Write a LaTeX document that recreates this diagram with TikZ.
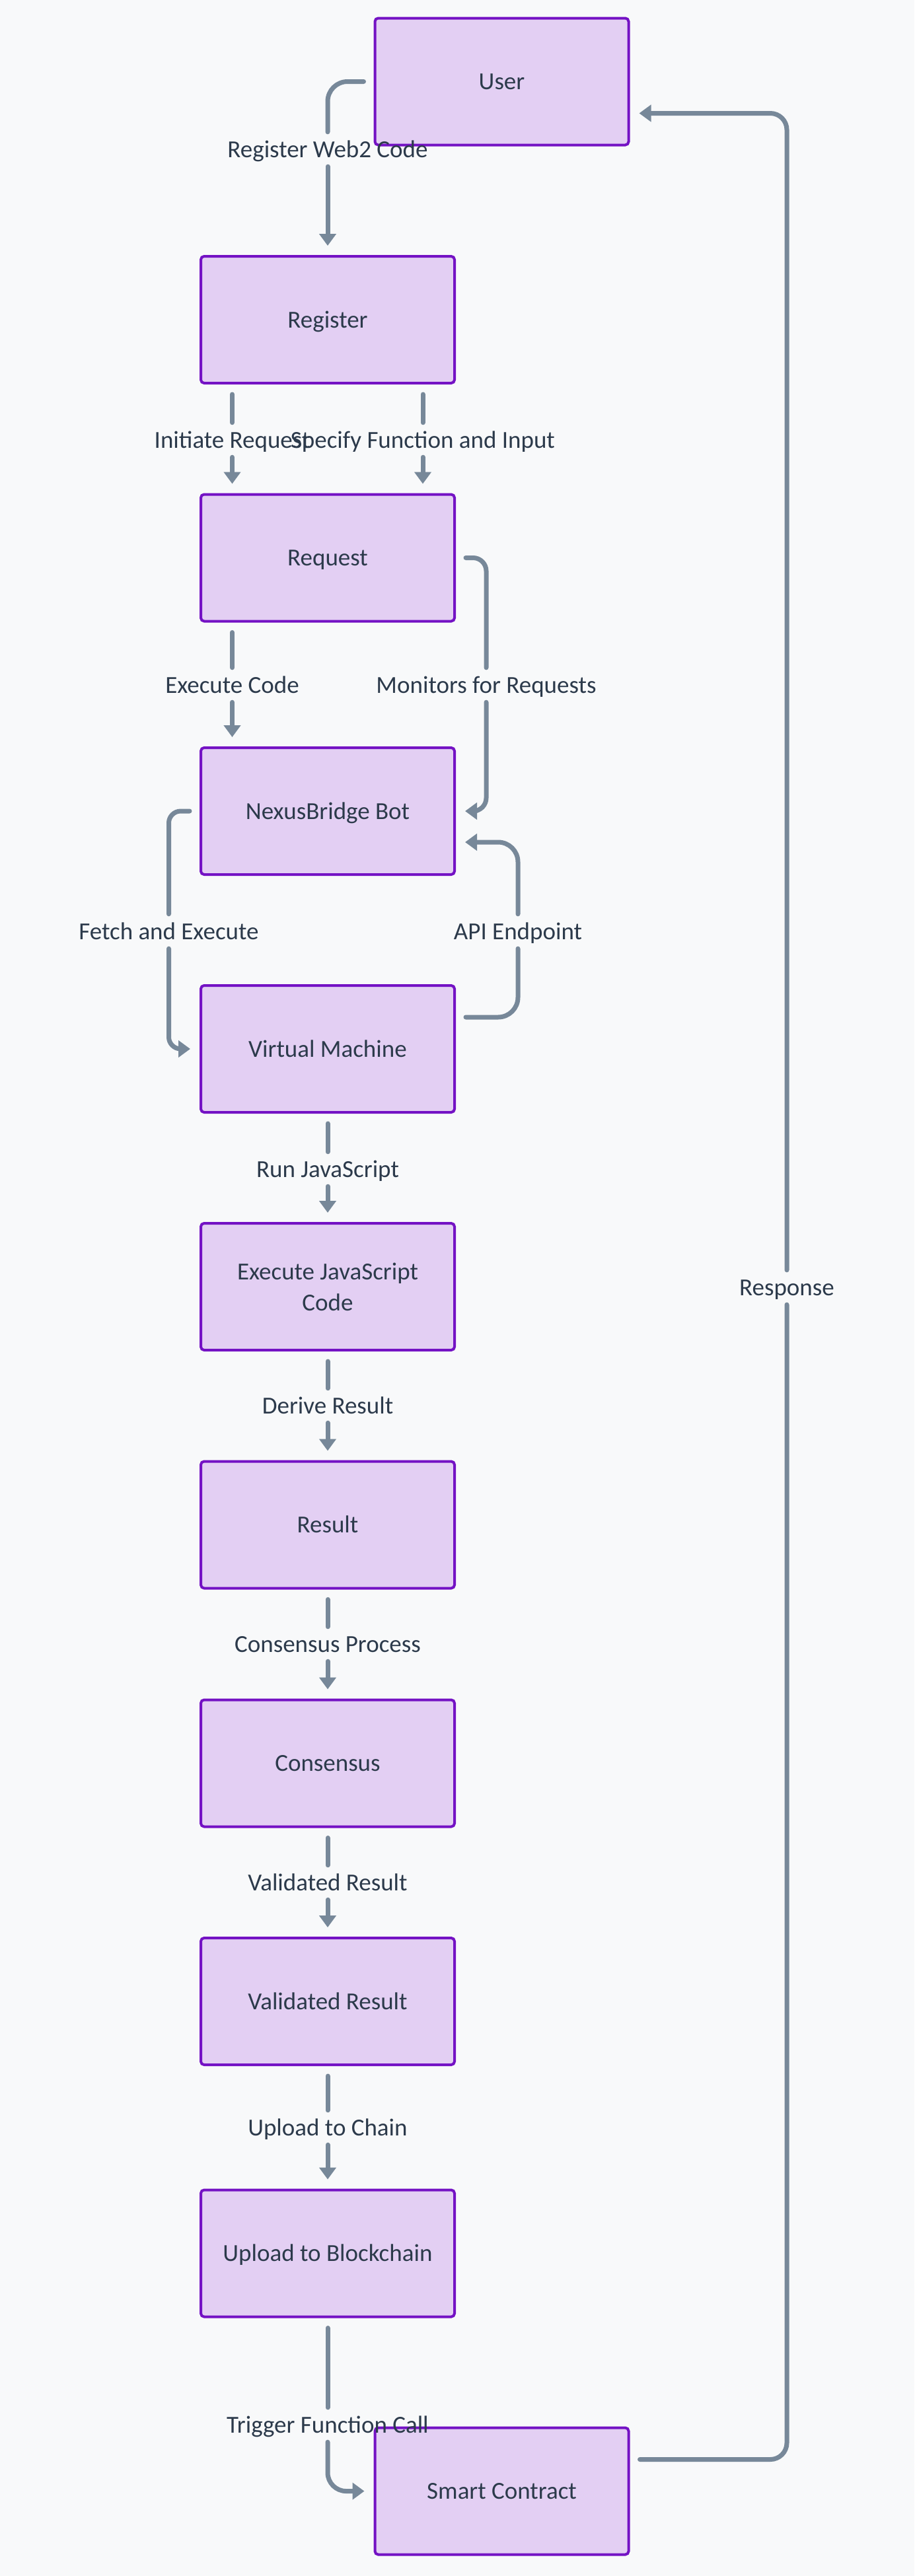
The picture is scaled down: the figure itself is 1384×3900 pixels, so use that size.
\documentclass[tikz,border=0pt]{standalone}
\usepackage{fontspec}
\setmainfont{Carlito}
\usetikzlibrary{arrows.meta}
\definecolor{bgc}{HTML}{F8F9FA}
\definecolor{boxfill}{HTML}{E3CFF3}
\definecolor{boxline}{HTML}{7412C4}
\definecolor{edgec}{HTML}{778899}
\definecolor{txtc}{HTML}{2C3A4B}
\tikzset{
  box/.style={draw=boxline, line width=4pt, fill=boxfill, rounded corners=5pt,
    minimum width=384pt, minimum height=192pt, inner sep=0pt, align=center,
    text height=24pt, text depth=0pt,
    text=txtc, font=\fontsize{37}{47}\selectfont},
  lbl/.style={inner xsep=0pt, inner ysep=0pt, text height=24pt, text depth=0pt,
    minimum height=52pt, text=txtc, font=\fontsize{37}{47}\selectfont},
  edge/.style={draw=edgec, line width=7pt, line cap=round},
  from/.style={shorten <=15pt},
  arr/.style={-{Triangle[length=18pt,width=25pt]}, shorten >=14pt},
}
\begin{document}
\begin{tikzpicture}[x=1pt,y=-1pt]
\path[fill=bgc] (0,0) rectangle (1384,3900);
% boxes
\node[box] (user) at (759.5,123.5) {User};
\node[box] (register) at (496,484) {Register};
\node[box] (request) at (496,844.5) {Request};
\node[box] (nexus) at (496,1228) {NexusBridge Bot};
\node[box] (vm) at (496,1588) {Virtual Machine};
\node[box, text height={}, text depth={}] (execjs) at (496,1948) {Execute JavaScript\\Code};
\node[box] (result) at (496,2308.5) {Result};
\node[box] (consensus) at (496,2669.5) {Consensus};
\node[box] (validated) at (496,3030) {Validated Result};
\node[box] (upload) at (496,3411.5) {Upload to Blockchain};
\node[box] (sc) at (759.5,3771.5) {Smart Contract};
% labels
\node[lbl] (l1) at (496,226) {Register Web2 Code};
\node[lbl] (l2a) at (351.5,666) {Initiate Request};
\node[lbl] (l2b) at (640,666) {Specify Function and Input};
\node[lbl] (l3a) at (351.5,1037) {Execute Code};
\node[lbl] (l3b) at (736,1037) {Monitors for Requests};
\node[lbl] (l4a) at (255.5,1410) {Fetch and Execute};
\node[lbl] (l4b) at (784,1410) {API Endpoint};
\node[lbl] (l5) at (496,1770) {Run JavaScript};
\node[lbl] (l6) at (496,2128) {Derive Result};
\node[lbl] (l7) at (496,2489) {Consensus Process};
\node[lbl] (l8) at (496,2850) {Validated Result};
\node[lbl] (l9) at (496,3221) {Upload to Chain};
\node[lbl] (l10) at (496,3671) {Trigger Function Call};
\node[lbl] (l11) at (1191,1949) {Response};
% edges
\draw[edge,from,rounded corners=30pt] (user.west) -| (l1.north);
\draw[edge,arr] (l1.south) -- (register.north);
\draw[edge,from] (register.south -| l2a) -- (l2a.north);
\draw[edge,arr] (l2a.south) -- (l2a.south |- request.north);
\draw[edge,from] (register.south -| l2b) -- (l2b.north);
\draw[edge,arr] (l2b.south) -- (l2b.south |- request.north);
\draw[edge,from] (request.south -| l3a) -- (l3a.north);
\draw[edge,arr] (l3a.south) -- (l3a.south |- nexus.north);
\draw[edge,from,rounded corners=20pt] (request.east) -| (l3b.north);
\draw[edge,arr,rounded corners=20pt] (l3b.south) |- (nexus.east);
\draw[edge,from,rounded corners=18pt] (nexus.west) -| (l4a.north);
\draw[edge,arr,rounded corners=18pt] (l4a.south) |- (vm.west);
\draw[edge,from,rounded corners=30pt] ([yshift=48pt]vm.east) -| (l4b.south);
\draw[edge,arr,rounded corners=30pt] (l4b.north) |- ([yshift=-47pt]nexus.east);
\draw[edge,from] (vm.south) -- (l5.north);
\draw[edge,arr] (l5.south) -- (execjs.north);
\draw[edge,from] (execjs.south) -- (l6.north);
\draw[edge,arr] (l6.south) -- (result.north);
\draw[edge,from] (result.south) -- (l7.north);
\draw[edge,arr] (l7.south) -- (consensus.north);
\draw[edge,from] (consensus.south) -- (l8.north);
\draw[edge,arr] (l8.south) -- (validated.north);
\draw[edge,from] (validated.south) -- (l9.north);
\draw[edge,arr] (l9.south) -- (upload.north);
\draw[edge,from] (upload.south) -- (l10.north);
\draw[edge,arr,rounded corners=28pt] (l10.south) |- (sc.west);
\draw[edge,from,rounded corners=25pt] ([yshift=48pt]sc.east) -| (l11.south);
\draw[edge,arr,rounded corners=25pt] (l11.north) |- ([yshift=-48pt]user.east);
\end{tikzpicture}
\end{document}
